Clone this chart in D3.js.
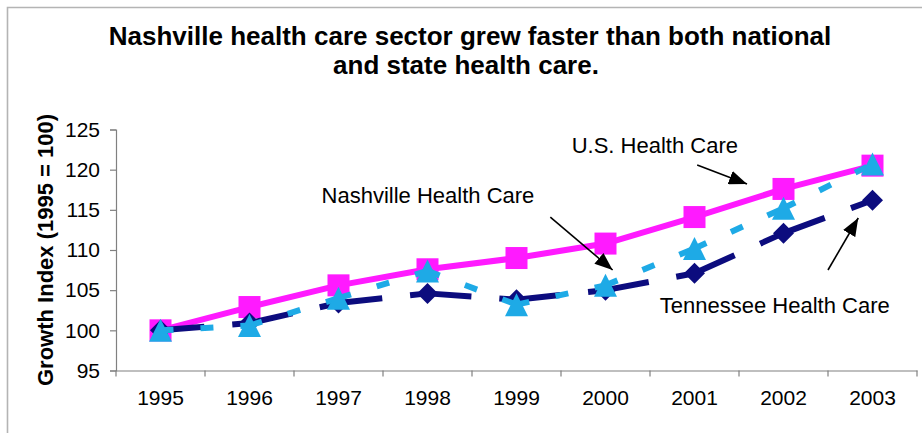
<!DOCTYPE html>
<html>
<head>
<meta charset="utf-8">
<script src="https://cdn.jsdelivr.net/npm/d3@7/dist/d3.min.js"></script>
<style>
  html, body { margin: 0; padding: 0; background: #fff; }
  svg { display: block; }
  text { font-family: "Liberation Sans", Arial, sans-serif; fill: #000; }
</style>
</head>
<body>
<svg id="chart" width="922" height="433"></svg>
<script>
// ---- data ----
const years = [1995, 1996, 1997, 1998, 1999, 2000, 2001, 2002, 2003];
const usHealth = [100, 102.9, 105.6, 107.6, 109.0, 110.8, 114.1, 117.6, 120.5];
const nashvilleHealth = [100, 100.9, 103.4, 104.6, 103.8, 105.0, 107.1, 112.1, 116.2];
const tennesseeHealth = [100, 100.6, 104.0, 107.4, 103.2, 105.6, 110.2, 115.2, 120.7];
const yTicks = [95, 100, 105, 110, 115, 120, 125];
const titleLines = ["Nashville health care sector grew faster than both national", "and state health care."];
const yLabel = "Growth Index (1995 = 100)";
// annotations in data space: [label, textYear, textValue, arrowFromYear, arrowFromValue, arrowToYear, arrowToValue]
const annotations = [
  ["U.S. Health Care", 1999.62, 122.07, 2001.03, 120.58, 2001.59, 118.21],
  ["Nashville Health Care", 1996.81, 115.85, 1999.38, 114.10, 2000.08, 107.51],
  ["Tennessee Health Care", 2000.61, 102.15, 2002.50, 107.51, 2002.84, 113.98]
];

// ---- layout ----
const svg = d3.select("#chart");
const pLeft = 116, pRight = 917, pTop = 129.5, pBottom = 370.5;

const x = d3.scaleBand().domain(years).range([pLeft, pRight]).padding(0);
const xc = d => x(d) + x.bandwidth() / 2;
const xYear = d3.scaleLinear().domain([years[0], years[years.length - 1]]).range([xc(years[0]), xc(years[years.length - 1])]);
const y = d3.scaleLinear().domain([95, 125]).range([pBottom, pTop]);

// frame
svg.append("path")
  .attr("d", "M7.5,433 L7.5,7.5 L922,7.5")
  .attr("fill", "none").attr("stroke", "#b4b4b4").attr("stroke-width", 1.6);

// title
svg.append("text")
  .attr("x", 470).attr("y", 45).attr("text-anchor", "middle")
  .style("font-weight", "bold").style("font-size", "26px")
  .text(titleLines[0]);
svg.append("text")
  .attr("x", 466).attr("y", 74).attr("text-anchor", "middle")
  .style("font-weight", "bold").style("font-size", "26px")
  .text(titleLines[1]);

// y axis
const yAxis = d3.axisLeft(y).tickValues(yTicks).tickSize(6).tickPadding(10).tickFormat(d3.format("d"));
const gy = svg.append("g").attr("transform", `translate(${pLeft},0)`).call(yAxis);
gy.select(".domain").attr("stroke", "#808080").attr("stroke-width", 1.2);
gy.selectAll(".tick line").attr("stroke", "#808080").attr("stroke-width", 1.2);
gy.selectAll(".tick text").style("font-size", "21px").style("font-family", "Liberation Sans, Arial, sans-serif").attr("fill", "#000");

// x axis (labels centered, ticks at category boundaries)
const xAxis = d3.axisBottom(x).tickSize(0).tickPadding(20);
const gx = svg.append("g").attr("transform", `translate(0,${pBottom})`).call(xAxis);
gx.select(".domain").attr("stroke", "#808080").attr("stroke-width", 1.2);
gx.selectAll(".tick text").style("font-size", "21px").style("font-family", "Liberation Sans, Arial, sans-serif").attr("fill", "#000");
const boundaries = years.map(d => x(d)).concat([x(years[years.length - 1]) + x.bandwidth()]);
gx.selectAll(".bound").data(boundaries).enter().append("line")
  .attr("x1", d => d).attr("x2", d => d).attr("y1", 0).attr("y2", 6)
  .attr("stroke", "#808080").attr("stroke-width", 1.2);

// y label
svg.append("text")
  .attr("transform", `translate(53,${(pTop + pBottom) / 2}) rotate(-90)`)
  .attr("text-anchor", "middle")
  .style("font-weight", "bold").style("font-size", "22px")
  .text(yLabel);

// series
function segments(vals) {
  const s = [];
  for (let i = 0; i < vals.length - 1; i++) s.push([[years[i], vals[i]], [years[i + 1], vals[i + 1]]]);
  return s;
}
const plot = svg.append("g");

// US: solid magenta, squares
const usColor = "#ff1aff";
plot.append("path").datum(years.map((d, i) => [d, usHealth[i]]))
  .attr("d", d3.line().x(d => xc(d[0])).y(d => y(d[1])))
  .attr("fill", "none").attr("stroke", usColor).attr("stroke-width", 6).attr("stroke-linejoin", "round");
plot.selectAll(".sq").data(years.map((d, i) => [d, usHealth[i]])).enter().append("rect")
  .attr("x", d => xc(d[0]) - 11).attr("y", d => y(d[1]) - 11)
  .attr("width", 22).attr("height", 22).attr("fill", usColor);

// Nashville: long dash navy, diamonds
const navy = "#0c0c7e";
plot.selectAll(".nseg").data(segments(nashvilleHealth)).enter().append("line")
  .attr("x1", d => xc(d[0][0])).attr("y1", d => y(d[0][1]))
  .attr("x2", d => xc(d[1][0])).attr("y2", d => y(d[1][1]))
  .attr("stroke", navy).attr("stroke-width", 6).attr("stroke-dasharray", "44,28");
plot.selectAll(".dm").data(years.map((d, i) => [d, nashvilleHealth[i]])).enter().append("path")
  .attr("d", d => { const cx = xc(d[0]), cy = y(d[1]), r = 10.5; return `M${cx},${cy - r}L${cx + r},${cy}L${cx},${cy + r}L${cx - r},${cy}Z`; })
  .attr("fill", navy);

// Tennessee: short dash light blue, triangles
const lblue = "#1eaae6";
plot.selectAll(".tseg").data(segments(tennesseeHealth)).enter().append("line")
  .attr("x1", d => xc(d[0][0])).attr("y1", d => y(d[0][1]))
  .attr("x2", d => xc(d[1][0])).attr("y2", d => y(d[1][1]))
  .attr("stroke", lblue).attr("stroke-width", 6).attr("stroke-dasharray", "13,27");
plot.selectAll(".tr").data(years.map((d, i) => [d, tennesseeHealth[i]])).enter().append("path")
  .attr("d", d => { const cx = xc(d[0]), cy = y(d[1]), h = 11.5; return `M${cx},${cy - h}L${cx + h},${cy + h}L${cx - h},${cy + h}Z`; })
  .attr("fill", lblue);

// annotations
const defs = svg.append("defs");
defs.append("marker").attr("id", "ah")
  .attr("viewBox", "0 0 18 14").attr("refX", 18).attr("refY", 7)
  .attr("markerWidth", 18).attr("markerHeight", 14)
  .attr("markerUnits", "userSpaceOnUse").attr("orient", "auto")
  .append("path").attr("d", "M0,0 L18,7 L0,14 Z").attr("fill", "#000");

const ann = svg.append("g");
ann.selectAll(".al").data(annotations).enter().append("line")
  .attr("x1", d => xYear(d[3])).attr("y1", d => y(d[4]))
  .attr("x2", d => xYear(d[5])).attr("y2", d => y(d[6]))
  .attr("stroke", "#000").attr("stroke-width", 1.6).attr("marker-end", "url(#ah)");
ann.selectAll(".at").data(annotations).enter().append("text")
  .attr("x", d => xYear(d[1])).attr("y", d => y(d[2]))
  .style("font-size", "22px")
  .text(d => d[0]);
</script>
</body>
</html>
